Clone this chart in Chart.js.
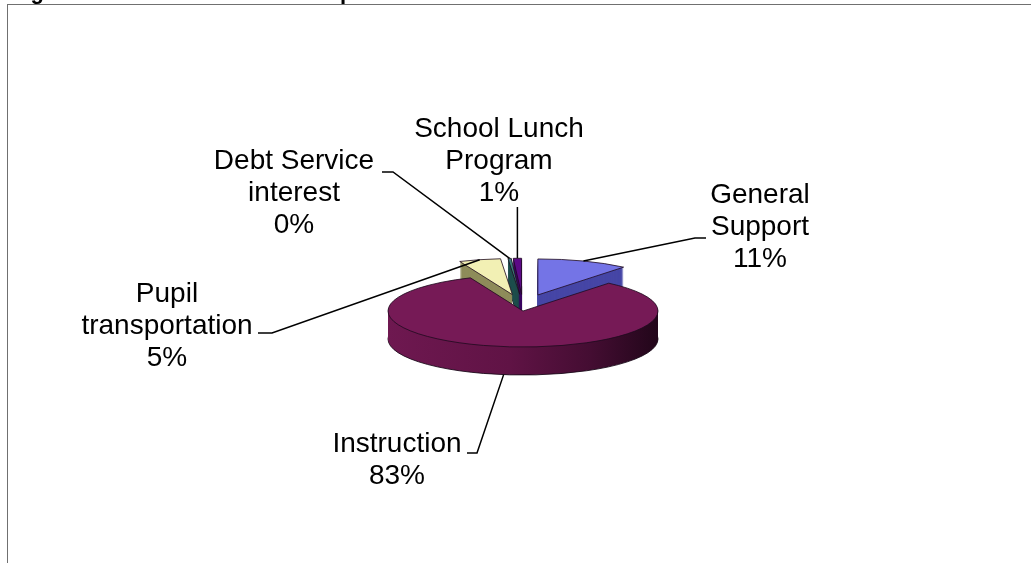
<!DOCTYPE html>
<html>
<head>
<meta charset="utf-8">
<script src="https://cdn.jsdelivr.net/npm/chart.js@4.4.0/dist/chart.umd.min.js"></script>
<style>
  html, body { margin: 0; padding: 0; background: #fff; }
  #wrap { width: 1031px; height: 563px; }
</style>
</head>
<body>
<div id="wrap"><canvas id="myChart"></canvas></div>
<script>
// slices, clockwise from 12 o'clock (labels split in the lines they are printed on)
var categories = [['General', 'Support'], ['Instruction'], ['Pupil', 'transportation'], ['Debt Service', 'interest'], ['School Lunch', 'Program']];
var values = [11, 83, 5, 0.4, 1];

var topColors = ['#7474e6', '#761a56', '#f2f0b4', '#3a7a78', '#5c0a86'];
var sideColors = ['#4646a6', null, '#8e8c5a', '#1e4e4c', '#3a0660'];
var explode = [44, 0, 44, 44, 44];

// fake 3d: flatten the pie and give it a side
var tilt = 36 / 135;
var depth = 28;
var lift = 5;
var faceY = 311;
var lineGap = 32;

// where each label goes (first baseline, leader elbow and end)
var labelPos = [
  { cx: 760, top: 203, elbow: [695, 238], end: [706, 238] },
  { cx: 397, top: 452, elbow: [477, 453], end: [467, 453] },
  { cx: 167, top: 302, elbow: [272, 333], end: [258, 333] },
  { cx: 294, top: 169, elbow: [393, 172], end: [382, 172] },
  { cx: 499, top: 137, elbow: null, end: [null, 207] }
];

var total = values.reduce(function (s, v) { return s + v; }, 0);

function centerY(chart) {
  return (chart.chartArea.top + chart.chartArea.bottom) / 2;
}
function flatten(ctx, chart, dy) {
  ctx.translate(0, faceY + dy);
  ctx.scale(1, tilt);
  ctx.translate(0, -centerY(chart));
}
function wedge(ctx, a) {
  ctx.beginPath();
  ctx.moveTo(a.x, a.y);
  ctx.arc(a.x, a.y, a.outerRadius, a.startAngle, a.endAngle);
  ctx.closePath();
}

var pie3d = {
  id: 'pie3d',
  beforeDraw: function (chart) {
    var ctx = chart.ctx;
    ctx.save();
    ctx.strokeStyle = '#707070';
    ctx.lineWidth = 1;
    ctx.strokeRect(7.5, 4.5, 1100, 700);
    // the title sits above the picture, only its descenders show
    ctx.fillStyle = '#000';
    ctx.font = 'bold 22px "Liberation Sans", Arial';
    ctx.textBaseline = 'alphabetic';
    ctx.fillText('Figure 3: 2009 General Fund Expenditures', 11, -1);
    ctx.restore();
  },
  afterUpdate: function (chart) {
    var arcs = chart.getDatasetMeta(0).data;
    arcs.forEach(function (a, i) {
      if (!explode[i]) return;
      var mid = (a.startAngle + a.endAngle) / 2;
      a.x += Math.cos(mid) * explode[i];
      a.y += Math.sin(mid) * explode[i] - lift / tilt;
    });
  },
  beforeDatasetsDraw: function (chart) {
    var ctx = chart.ctx;
    var arcs = chart.getDatasetMeta(0).data;
    var r = arcs[0].outerRadius;
    var cx = (chart.chartArea.left + chart.chartArea.right) / 2;
    var grad = ctx.createLinearGradient(cx - r, 0, cx + r, 0);
    grad.addColorStop(0, '#6e1850');
    grad.addColorStop(0.45, '#601345');
    grad.addColorStop(0.75, '#440d32');
    grad.addColorStop(1, '#22061a');
    for (var d = depth; d >= 1; d--) {
      ctx.save();
      flatten(ctx, chart, d);
      arcs.forEach(function (a, i) {
        wedge(ctx, a);
        ctx.fillStyle = sideColors[i] || grad;
        ctx.fill();
        if (d === depth) {
          ctx.save();
          ctx.setTransform(1, 0, 0, 1, 0, 0);
          ctx.strokeStyle = 'rgba(20,5,20,0.85)';
          ctx.lineWidth = 1;
          ctx.stroke();
          ctx.restore();
        }
      });
      ctx.restore();
    }
    ctx.save();
    flatten(ctx, chart, 0);
  },
  afterDatasetsDraw: function (chart) {
    var ctx = chart.ctx;
    var arcs = chart.getDatasetMeta(0).data;
    // outlines of the top faces, kept 1px thick
    arcs.forEach(function (a) {
      wedge(ctx, a);
      ctx.save();
      ctx.setTransform(1, 0, 0, 1, 0, 0);
      ctx.strokeStyle = 'rgba(30,10,30,0.8)';
      ctx.lineWidth = 1;
      ctx.stroke();
      ctx.restore();
    });
    ctx.restore();

    var cy = centerY(chart);
    ctx.save();
    ctx.strokeStyle = '#000';
    ctx.lineWidth = 1.5;
    ctx.fillStyle = '#000';
    ctx.font = '28px "Liberation Sans", Arial';
    ctx.textAlign = 'center';
    ctx.textBaseline = 'alphabetic';
    arcs.forEach(function (a, i) {
      var mid = (a.startAngle + a.endAngle) / 2;
      var px = a.x + Math.cos(mid) * a.outerRadius;
      var py = faceY + tilt * (a.y + Math.sin(mid) * a.outerRadius - cy);
      if (Math.sin(mid) > 0.3) py += depth;
      var lp = labelPos[i];
      ctx.beginPath();
      ctx.moveTo(px, py);
      if (lp.elbow) ctx.lineTo(lp.elbow[0], lp.elbow[1]);
      ctx.lineTo(lp.end[0] === null ? px : lp.end[0], lp.end[1]);
      ctx.stroke();
      var lines = categories[i].concat([Math.round(values[i] / total * 100) + '%']);
      lines.forEach(function (t, j) {
        ctx.fillText(t, lp.cx, lp.top + j * lineGap);
      });
    });
    ctx.restore();
  }
};

new Chart('myChart', {
  type: 'pie',
  data: {
    labels: categories,
    datasets: [{
      data: values,
      backgroundColor: topColors,
      borderWidth: 0,
      clip: false
    }]
  },
  options: {
    responsive: true,
    maintainAspectRatio: false,
    animation: false,
    radius: 135,
    layout: { padding: { left: 15 } },
    events: [],
    plugins: {
      legend: { display: false },
      tooltip: { enabled: false }
    }
  },
  plugins: [pie3d]
});
</script>
</body>
</html>
